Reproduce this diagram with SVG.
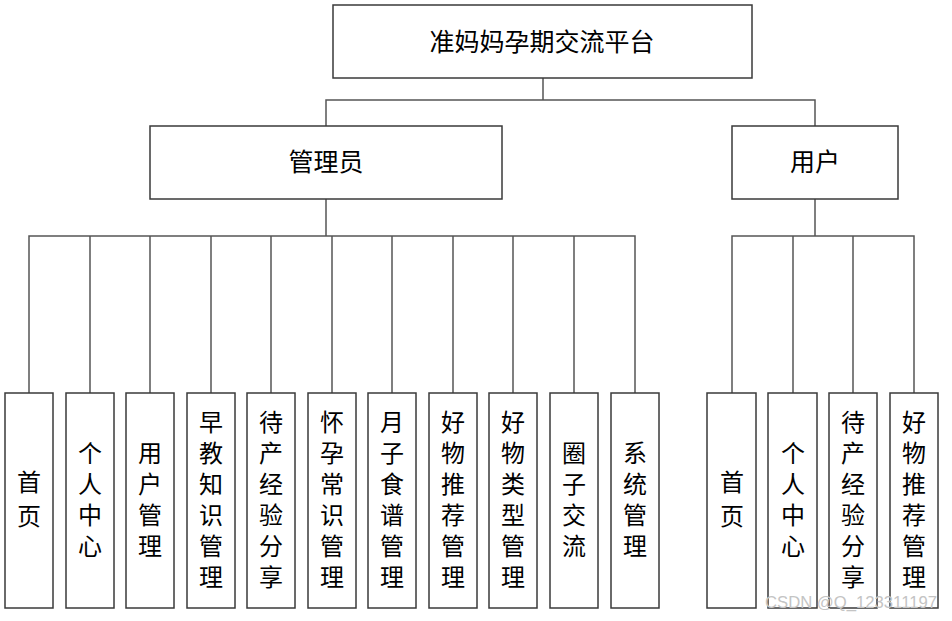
<svg xmlns="http://www.w3.org/2000/svg" width="952" height="621" viewBox="0 0 952 621">
<style>
.box{fill:#fff;stroke:#3a3a3a;stroke-width:1.5}
.ln{fill:none;stroke:#555;stroke-width:1.5}
.t{font-family:"Noto Sans CJK SC","Noto Sans",sans-serif;fill:#000;text-anchor:middle}
.big{font-size:25px}
.sm{font-size:24px}
.wm{font-family:"Liberation Sans",Arial,sans-serif;font-size:16px;fill:#c4c4c4}
</style>
<rect width="952" height="621" fill="#fff"/>
<g id="connectors">
<path class="ln" d="M543 78V100M326 126V100H815V126"/>
<path class="ln" d="M326 199V236M29 393V236H635V393M90 236V393M150 236V393M211 236V393M271 236V393M332 236V393M392 236V393M453 236V393M513 236V393M574 236V393"/>
<path class="ln" d="M815 199V236M732 393V236H914V393M793 236V393M853 236V393"/>
</g>
<g id="root"><rect class="box" x="333" y="5" width="419" height="73"/><text class="t big" x="542" y="51">准妈妈孕期交流平台</text></g>
<g id="admin"><rect class="box" x="150" y="126" width="352" height="73"/><text class="t big" x="326" y="171">管理员</text></g>
<g id="user"><rect class="box" x="732" y="126" width="166" height="73"/><text class="t big" x="815" y="171">用户</text></g>
<g id="a1" class="t sm"><rect class="box" x="5" y="393" width="48" height="215"/><text x="29" y="491">首</text><text x="29" y="525">页</text></g>
<g id="a2" class="t sm"><rect class="box" x="66" y="393" width="48" height="215"/><text x="90" y="462">个</text><text x="90" y="493">人</text><text x="90" y="524">中</text><text x="90" y="555">心</text></g>
<g id="a3" class="t sm"><rect class="box" x="126" y="393" width="48" height="215"/><text x="150" y="462">用</text><text x="150" y="493">户</text><text x="150" y="524">管</text><text x="150" y="555">理</text></g>
<g id="a4" class="t sm"><rect class="box" x="187" y="393" width="48" height="215"/><text x="211" y="431">早</text><text x="211" y="462">教</text><text x="211" y="493">知</text><text x="211" y="524">识</text><text x="211" y="555">管</text><text x="211" y="586">理</text></g>
<g id="a5" class="t sm"><rect class="box" x="247" y="393" width="48" height="215"/><text x="271" y="431">待</text><text x="271" y="462">产</text><text x="271" y="493">经</text><text x="271" y="524">验</text><text x="271" y="555">分</text><text x="271" y="586">享</text></g>
<g id="a6" class="t sm"><rect class="box" x="308" y="393" width="48" height="215"/><text x="332" y="431">怀</text><text x="332" y="462">孕</text><text x="332" y="493">常</text><text x="332" y="524">识</text><text x="332" y="555">管</text><text x="332" y="586">理</text></g>
<g id="a7" class="t sm"><rect class="box" x="368" y="393" width="48" height="215"/><text x="392" y="431">月</text><text x="392" y="462">子</text><text x="392" y="493">食</text><text x="392" y="524">谱</text><text x="392" y="555">管</text><text x="392" y="586">理</text></g>
<g id="a8" class="t sm"><rect class="box" x="429" y="393" width="48" height="215"/><text x="453" y="431">好</text><text x="453" y="462">物</text><text x="453" y="493">推</text><text x="453" y="524">荐</text><text x="453" y="555">管</text><text x="453" y="586">理</text></g>
<g id="a9" class="t sm"><rect class="box" x="489" y="393" width="48" height="215"/><text x="513" y="431">好</text><text x="513" y="462">物</text><text x="513" y="493">类</text><text x="513" y="524">型</text><text x="513" y="555">管</text><text x="513" y="586">理</text></g>
<g id="a10" class="t sm"><rect class="box" x="550" y="393" width="48" height="215"/><text x="574" y="462">圈</text><text x="574" y="493">子</text><text x="574" y="524">交</text><text x="574" y="555">流</text></g>
<g id="a11" class="t sm"><rect class="box" x="611" y="393" width="48" height="215"/><text x="635" y="462">系</text><text x="635" y="493">统</text><text x="635" y="524">管</text><text x="635" y="555">理</text></g>
<g id="u1" class="t sm"><rect class="box" x="707" y="393" width="49" height="215"/><text x="732" y="491">首</text><text x="732" y="525">页</text></g>
<g id="u2" class="t sm"><rect class="box" x="768" y="393" width="49" height="215"/><text x="793" y="462">个</text><text x="793" y="493">人</text><text x="793" y="524">中</text><text x="793" y="555">心</text></g>
<g id="u3" class="t sm"><rect class="box" x="829" y="393" width="48" height="215"/><text x="853" y="431">待</text><text x="853" y="462">产</text><text x="853" y="493">经</text><text x="853" y="524">验</text><text x="853" y="555">分</text><text x="853" y="586">享</text></g>
<g id="u4" class="t sm"><rect class="box" x="890" y="393" width="48" height="215"/><text x="914" y="431">好</text><text x="914" y="462">物</text><text x="914" y="493">推</text><text x="914" y="524">荐</text><text x="914" y="555">管</text><text x="914" y="586">理</text></g>
<text class="wm" x="765" y="608" textLength="172" lengthAdjust="spacingAndGlyphs">CSDN @Q_123311197</text>
</svg>
